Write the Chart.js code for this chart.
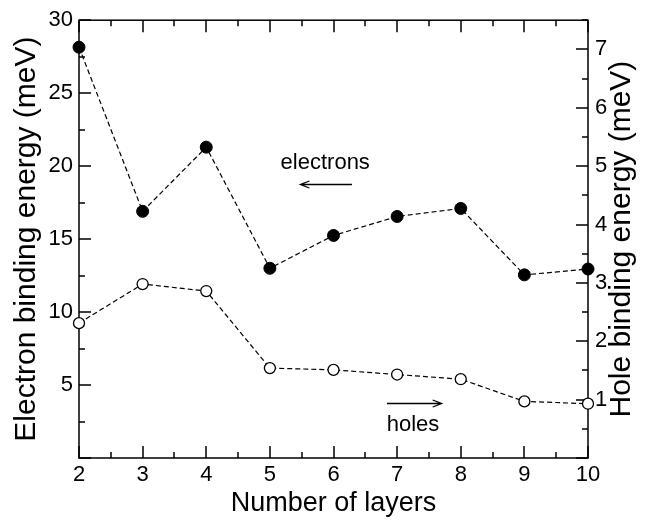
<!DOCTYPE html>
<html>
<head>
<meta charset="utf-8">
<script src="https://cdn.jsdelivr.net/npm/chart.js@4/dist/chart.umd.min.js"></script>
<style>
  html, body { margin: 0; padding: 0; background: #fff; }
  #wrap { width: 651px; height: 520px; }
</style>
</head>
<body>
<div id="wrap"><canvas id="bindingChart"></canvas></div>
<script>
// values
const layers = [2, 3, 4, 5, 6, 7, 8, 9, 10];
const electronEnergy = [28.15, 16.9, 21.3, 13.0, 15.25, 16.55, 17.1, 12.55, 12.95]; // left axis
const holeEnergy = [2.31, 2.98, 2.86, 1.54, 1.51, 1.43, 1.35, 0.97, 0.93];           // right axis
const xTicks = [2, 3, 4, 5, 6, 7, 8, 9, 10];
const leftTicks = [5, 10, 15, 20, 25, 30];
const rightTicks = [1, 2, 3, 4, 5, 6, 7];

const FONT = "'Liberation Sans', Arial, Helvetica, sans-serif";

// frame box + inward ticks on all four sides
const frameTicks = {
    id: 'frameTicks',
    beforeDatasetsDraw(chart) {
        const {ctx, chartArea: a, scales} = chart;
        ctx.save();
        ctx.strokeStyle = '#000';
        ctx.lineWidth = 1.5;
        ctx.strokeRect(a.left, a.top, a.right - a.left, a.bottom - a.top);
        ctx.lineWidth = 1.5;
        ctx.beginPath();
        const x = scales.x;
        for (let v = x.min; v <= x.max + 1e-9; v += 0.5) {
            const px = Math.round(x.getPixelForValue(v));
            const len = Number.isInteger(v) ? 12 : 6;
            ctx.moveTo(px, a.bottom); ctx.lineTo(px, a.bottom - len);
            ctx.moveTo(px, a.top); ctx.lineTo(px, a.top + len);
        }
        const y = scales.y;
        for (let v = y.min; v <= y.max + 1e-9; v += 2.5) {
            const py = Math.round(y.getPixelForValue(v));
            const len = (v % 5 === 0) ? 12 : 6;
            ctx.moveTo(a.left, py); ctx.lineTo(a.left + len, py);
        }
        const y2 = scales.y2;
        for (let v = y2.min; v <= y2.max + 1e-9; v += 0.5) {
            const py = Math.round(y2.getPixelForValue(v));
            const len = Number.isInteger(v) ? 12 : 6;
            ctx.moveTo(a.right, py); ctx.lineTo(a.right - len, py);
        }
        ctx.stroke();
        ctx.restore();
    }
};

// right axis title, reading bottom to top like the left one
const rightTitle = {
    id: 'rightTitle',
    afterDraw(chart, args, opts) {
        const {ctx, chartArea: a} = chart;
        ctx.save();
        ctx.translate(opts.x, (a.top + a.bottom) / 2);
        ctx.rotate(-Math.PI / 2);
        ctx.fillStyle = '#000';
        ctx.font = '30px ' + FONT;
        ctx.textAlign = 'center';
        ctx.textBaseline = 'middle';
        ctx.fillText(opts.text, 0, 0);
        ctx.restore();
    }
};

// "electrons <-" and "holes ->" labels
const arrowLabels = {
    id: 'arrowLabels',
    afterDatasetsDraw(chart, args, opts) {
        const {ctx, scales} = chart;
        ctx.save();
        ctx.fillStyle = '#000';
        ctx.strokeStyle = '#000';
        ctx.lineWidth = 1.3;
        ctx.font = '22px ' + FONT;
        ctx.textAlign = 'center';
        ctx.textBaseline = 'middle';
        opts.items.forEach(it => {
            const sx = scales.x, sy = scales.y;
            ctx.fillText(it.text, sx.getPixelForValue(it.tx), sy.getPixelForValue(it.ty));
            const x0 = sx.getPixelForValue(it.from), x1 = sx.getPixelForValue(it.to);
            const ay = Math.round(sy.getPixelForValue(it.ay)) + 0.5;
            const dir = x1 > x0 ? 1 : -1;
            ctx.beginPath();
            ctx.moveTo(x0, ay); ctx.lineTo(x1, ay);
            ctx.moveTo(x1 - dir * 9, ay - 3.5); ctx.lineTo(x1, ay); ctx.lineTo(x1 - dir * 9, ay + 3.5);
            ctx.stroke();
        });
        ctx.restore();
    }
};

const chartData = {
    datasets: [{
        label: 'electrons',
        data: layers.map((n, i) => ({x: n, y: electronEnergy[i]})),
        yAxisID: 'y',
        borderColor: '#000',
        borderWidth: 1.2,
        borderDash: [5, 3],
        backgroundColor: '#000',
        pointBackgroundColor: '#000',
        pointBorderColor: '#000',
        pointRadius: 6,
        pointBorderWidth: 1,
        clip: false
    }, {
        label: 'holes',
        data: layers.map((n, i) => ({x: n, y: holeEnergy[i]})),
        yAxisID: 'y2',
        borderColor: '#000',
        borderWidth: 1.2,
        borderDash: [5, 3],
        pointBackgroundColor: '#fff',
        pointBorderColor: '#000',
        pointRadius: 5.5,
        pointBorderWidth: 1.3,
        clip: false
    }]
};

const tickFont = {family: FONT, size: 22};

const config = {
    type: 'line',
    data: chartData,
    options: {
        responsive: false,
        animation: false,
        events: [],
        layout: {padding: {top: 20, right: 0, bottom: 0, left: 0}},
        plugins: {
            legend: {display: false},
            tooltip: {enabled: false},
            rightTitle: {text: 'Hole binding energy (meV)', x: 622},
            arrowLabels: {
                items: [
                    {text: 'electrons', tx: 5.87, ty: 20.2, from: 6.29, to: 5.48, ay: 18.75},
                    {text: 'holes', tx: 7.25, ty: 2.25, from: 6.84, to: 7.7, ay: 3.75}
                ]
            }
        },
        scales: {
            x: {
                type: 'linear',
                min: 2, max: 10,
                afterBuildTicks: s => { s.ticks = xTicks.map(v => ({value: v})); },
                afterFit: s => { s.height = 62; },
                grid: {display: false, drawTicks: false},
                border: {display: false},
                ticks: {color: '#000', font: tickFont, padding: 4, maxRotation: 0},
                title: {display: true, text: 'Number of layers', color: '#000', font: {family: FONT, size: 27}, padding: {top: 0, bottom: 0}}
            },
            y: {
                position: 'left',
                min: 0, max: 30,
                afterBuildTicks: s => { s.ticks = leftTicks.map(v => ({value: v})); },
                afterFit: s => { s.width = 79; },
                grid: {display: false, drawTicks: false},
                border: {display: false},
                ticks: {color: '#000', font: tickFont, padding: 6},
                title: {display: true, text: 'Electron binding energy (meV)', color: '#000', font: {family: FONT, size: 30}, padding: {top: 9, bottom: 0}}
            },
            y2: {
                position: 'right',
                min: 0, max: 7.5,
                afterBuildTicks: s => { s.ticks = rightTicks.map(v => ({value: v})); },
                afterFit: s => { s.width = 63; },
                grid: {display: false, drawTicks: false},
                border: {display: false},
                ticks: {color: '#000', font: tickFont, padding: 7}
            }
        }
    },
    plugins: [frameTicks, rightTitle, arrowLabels]
};

const canvas = document.getElementById('bindingChart');
canvas.width = 651;
canvas.height = 520;
const myChart = new Chart(canvas, config);
</script>
</body>
</html>
